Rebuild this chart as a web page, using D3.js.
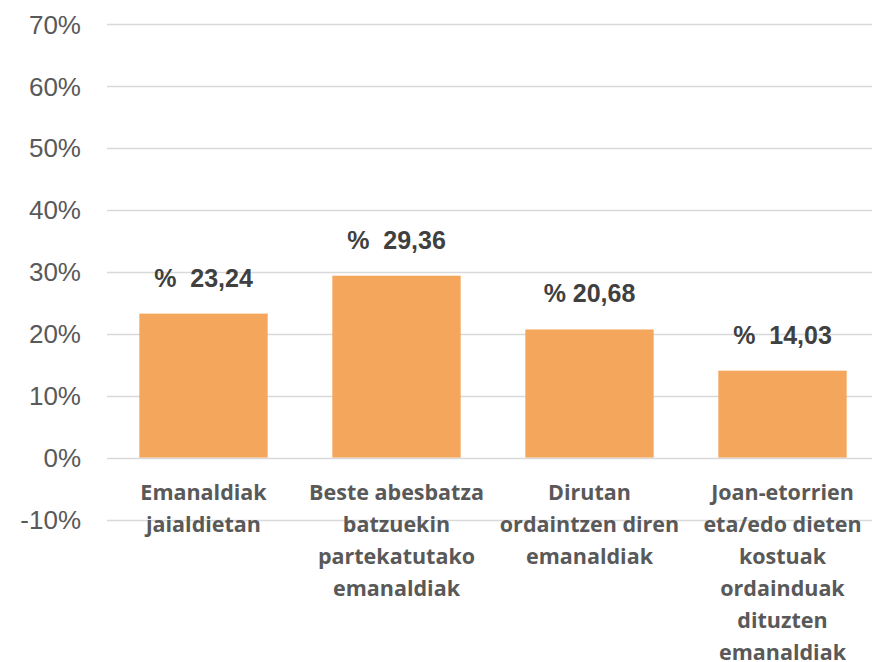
<!DOCTYPE html>
<html><head><meta charset="utf-8">
<script src="https://cdn.jsdelivr.net/npm/d3@7"></script>
<style>html,body{margin:0;padding:0;background:#fff;}svg{display:block;}</style>
</head><body>
<svg id="chart" width="872" height="662"></svg>
<script>
const categories = [
  ["Emanaldiak","jaialdietan"],
  ["Beste abesbatza","batzuekin","partekatutako","emanaldiak"],
  ["Dirutan","ordaintzen diren","emanaldiak"],
  ["Joan-etorrien","eta/edo dieten","kostuak","ordainduak","dituzten","emanaldiak"]
];
const values = [23.24, 29.36, 20.68, 14.03];
const valueLabels = ["%  23,24", "%  29,36", "% 20,68", "%  14,03"];
const yTicks = [-10, 0, 10, 20, 30, 40, 50, 60, 70];

const W = 872, H = 662;
const svg = d3.select("#chart");
const y = d3.scaleLinear().domain([-10, 70]).range([519.5, 24]);
const x = d3.scaleBand().domain(d3.range(values.length)).range([107, 879])
  .paddingInner(0.335).paddingOuter(0.1675);

// gridlines
svg.append("g").selectAll("line").data(yTicks).join("line")
  .attr("x1", 107).attr("x2", W)
  .attr("y1", d => Math.round(y(d)) + 0.5).attr("y2", d => Math.round(y(d)) + 0.5)
  .attr("stroke", "#d9d9d9").attr("stroke-width", 1.5);

// y axis labels
const yAxis = d3.axisLeft(y).tickValues(yTicks).tickFormat(d => d + "%").tickSize(0).tickPadding(0);
const ga = svg.append("g").attr("transform", "translate(81,0)").call(yAxis);
ga.select(".domain").remove();
ga.selectAll("text").attr("font-family", "Liberation Sans, Arial, sans-serif")
  .attr("font-size", 26).attr("fill", "#595959").attr("dy", "0.35em");

// bars
svg.append("g").selectAll("rect").data(values).join("rect")
  .attr("x", (d, i) => x(i)).attr("width", x.bandwidth())
  .attr("y", d => y(d)).attr("height", d => y(0) - y(d))
  .attr("fill", "#F5A65D");

// value labels
svg.append("g").selectAll("text").data(values).join("text")
  .attr("x", (d, i) => x(i) + x.bandwidth() / 2)
  .attr("y", d => y(d) - 27)
  .attr("text-anchor", "middle")
  .style("white-space", "pre")
  .attr("font-family", "Liberation Sans, Arial, sans-serif")
  .attr("font-weight", "bold").attr("font-size", 25)
  .attr("fill", "#404040")
  .text((d, i) => valueLabels[i]);

// category labels
const cg = svg.append("g").selectAll("text").data(categories).join("text")
  .attr("x", (d, i) => x(i) + x.bandwidth() / 2)
  .attr("y", 500)
  .attr("text-anchor", "middle")
  .attr("font-family", "Open Sans, sans-serif")
  .attr("font-weight", "bold").attr("font-size", 21.5)
  .attr("fill", "#595959");
cg.each(function(lines) {
  const t = d3.select(this);
  lines.forEach((l, j) => {
    t.append("tspan").attr("x", t.attr("x")).attr("dy", j === 0 ? 0 : 32).text(l);
  });
});
</script>
</body></html>
